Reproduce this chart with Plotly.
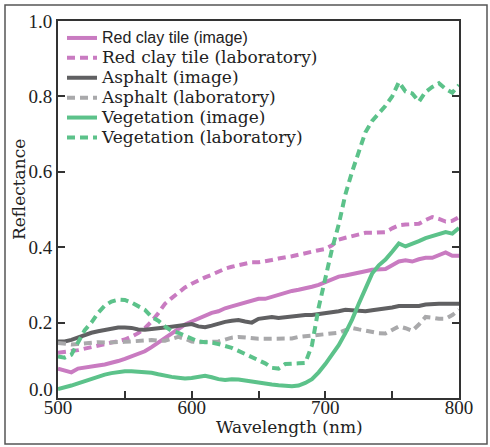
import plotly.graph_objects as go

wavelength = list(range(500, 801, 5))

red_clay_image = [0.078, 0.073, 0.068, 0.078, 0.080, 0.083, 0.086, 0.089, 0.093, 0.098,
                  0.104, 0.110, 0.117, 0.124, 0.135, 0.147, 0.160, 0.172, 0.184, 0.195,
                  0.203, 0.210, 0.218, 0.226, 0.230, 0.238, 0.243, 0.248, 0.252, 0.258,
                  0.263, 0.263, 0.268, 0.275, 0.280, 0.284, 0.287, 0.290, 0.295, 0.300,
                  0.307, 0.315, 0.322, 0.325, 0.328, 0.333, 0.336, 0.340, 0.340, 0.342,
                  0.352, 0.362, 0.365, 0.362, 0.368, 0.372, 0.372, 0.378, 0.386, 0.377,
                  0.377]
red_clay_lab = [0.120, 0.122, 0.124, 0.127, 0.131, 0.135, 0.139, 0.143, 0.146, 0.150,
                0.155, 0.163, 0.172, 0.185, 0.203, 0.225, 0.250, 0.265, 0.280, 0.293,
                0.303, 0.312, 0.320, 0.327, 0.335, 0.343, 0.348, 0.352, 0.357, 0.360,
                0.360, 0.362, 0.366, 0.370, 0.372, 0.376, 0.380, 0.385, 0.388, 0.392,
                0.395, 0.405, 0.420, 0.425, 0.430, 0.435, 0.438, 0.438, 0.438, 0.440,
                0.450, 0.458, 0.460, 0.460, 0.462, 0.472, 0.480, 0.475, 0.468, 0.470,
                0.480]
asphalt_image = [0.150, 0.150, 0.154, 0.160, 0.168, 0.173, 0.177, 0.180, 0.184, 0.187,
                 0.187, 0.186, 0.182, 0.181, 0.183, 0.186, 0.187, 0.189, 0.192, 0.195,
                 0.196, 0.190, 0.188, 0.192, 0.198, 0.202, 0.205, 0.207, 0.203, 0.200,
                 0.210, 0.213, 0.215, 0.212, 0.214, 0.217, 0.218, 0.220, 0.220, 0.222,
                 0.224, 0.227, 0.230, 0.234, 0.233, 0.230, 0.230, 0.233, 0.235, 0.237,
                 0.240, 0.244, 0.244, 0.242, 0.244, 0.248, 0.250, 0.250, 0.250, 0.250,
                 0.250]
asphalt_lab = [0.146, 0.144, 0.142, 0.143, 0.145, 0.147, 0.148, 0.147, 0.147, 0.148,
               0.149, 0.150, 0.151, 0.152, 0.154, 0.152, 0.152, 0.157, 0.162, 0.157,
               0.150, 0.148, 0.148, 0.148, 0.150, 0.155, 0.160, 0.162, 0.160, 0.158,
               0.157, 0.157, 0.157, 0.156, 0.156, 0.158, 0.162, 0.164, 0.166, 0.167,
               0.168, 0.170, 0.173, 0.180, 0.186, 0.182, 0.178, 0.175, 0.172, 0.171,
               0.180, 0.190, 0.185, 0.178, 0.195, 0.215, 0.213, 0.210, 0.210, 0.220,
               0.234]
vegetation_image = [0.024, 0.028, 0.033, 0.039, 0.045, 0.050, 0.057, 0.062, 0.066, 0.069,
                    0.071, 0.071, 0.070, 0.069, 0.067, 0.063, 0.059, 0.056, 0.054, 0.052,
                    0.053, 0.057, 0.059, 0.055, 0.050, 0.048, 0.050, 0.049, 0.046, 0.044,
                    0.040, 0.038, 0.036, 0.034, 0.032, 0.031, 0.033, 0.040, 0.050, 0.068,
                    0.090, 0.115, 0.140, 0.172, 0.208, 0.250, 0.290, 0.330, 0.352, 0.367,
                    0.388, 0.410, 0.402, 0.408, 0.416, 0.424, 0.430, 0.436, 0.440, 0.436,
                    0.451]
vegetation_lab = [0.110, 0.107, 0.115, 0.150, 0.180, 0.200, 0.226, 0.245, 0.256, 0.261,
                  0.260, 0.253, 0.244, 0.234, 0.215, 0.205, 0.190, 0.178, 0.173, 0.165,
                  0.157, 0.150, 0.148, 0.147, 0.143, 0.138, 0.133, 0.125, 0.117, 0.108,
                  0.100, 0.092, 0.080, 0.078, 0.090, 0.092, 0.092, 0.093, 0.140, 0.240,
                  0.320, 0.395, 0.460, 0.540, 0.600, 0.650, 0.705, 0.735, 0.755, 0.775,
                  0.800, 0.838, 0.813, 0.808, 0.786, 0.812, 0.825, 0.835, 0.820, 0.810,
                  0.830]

series_names = ["Red clay tile (image)", "Red clay tile (laboratory)", "Asphalt (image)",
                "Asphalt (laboratory)", "Vegetation (image)", "Vegetation (laboratory)"]
series_values = [red_clay_image, red_clay_lab, asphalt_image, asphalt_lab,
                 vegetation_image, vegetation_lab]
series_colors = ["#c97bc1", "#c97bc1", "#606062", "#a9a9ab", "#5cc28a", "#5cc28a"]
series_dash = ["solid", "8px,5px", "solid", "8px,5px", "solid", "8px,5px"]

x_tick_vals = [500, 550, 600, 650, 700, 750, 800]
x_tick_text = ["500", "", "600", "", "700", "", "800"]
y_tick_vals = [0.0, 0.2, 0.4, 0.6, 0.8, 1.0]
y_tick_text = ["0.0", "0.2", "0.4", "0.6", "0.8", "1.0"]

SERIF = "DejaVu Serif"
NUM = "Liberation Serif"
AX = "#333333"
TXT = "#222222"

fig = go.Figure()
for i, (name, vals, col, dash) in enumerate(zip(series_names, series_values, series_colors, series_dash)):
    if i == 0:
        label = '<span style="font-family:Liberation Sans;font-size:16px">' + name + '</span>'
    else:
        label = '<span style="font-size:17px">' + name + '</span>'
    fig.add_trace(go.Scatter(x=wavelength, y=vals, mode="lines", name=label,
                             line=dict(color=col, width=4, dash=dash)))

W, H = 490, 447
L, R, T, B = 58, 31, 21, 49
pw, ph = W - L - R, H - T - B

def px_x(x):
    return (x - L) / pw

def px_y(y):
    return (H - B - y) / ph

# the lowest y label sits raised above the axis corner in the reference
y_tick_shown = [""] + y_tick_text[1:]

fig.update_layout(
    width=W, height=H,
    margin=dict(l=L, r=R, t=T, b=B, pad=0),
    paper_bgcolor="white", plot_bgcolor="white",
    showlegend=True,
    legend=dict(x=px_x(62), y=px_y(23), xanchor="left", yanchor="top",
                bgcolor="rgba(0,0,0,0)", borderwidth=0,
                font=dict(family=SERIF, size=13, color=TXT),
                itemwidth=30, tracegroupgap=0),
    xaxis=dict(range=[500, 800], tickmode="array", tickvals=x_tick_vals, ticktext=x_tick_text,
               ticks="inside", ticklen=7, tickwidth=2, tickcolor=AX,
               showline=True, linewidth=2, linecolor=AX, mirror=True,
               showgrid=False, zeroline=False, ticklabelstandoff=-9,
               tickfont=dict(family=NUM, size=19, color=TXT)),
    yaxis=dict(range=[0, 1], tickmode="array", tickvals=y_tick_vals, ticktext=y_tick_shown,
               ticks="inside", ticklen=7, tickwidth=2, tickcolor=AX,
               showline=True, linewidth=2, linecolor=AX, mirror="ticks",
               showgrid=False, zeroline=False,
               tickfont=dict(family=NUM, size=19, color=TXT)),
    yaxis2=dict(range=[0, 1], overlaying="y", side="left", anchor="x",
                tickmode="array", tickvals=y_tick_vals, ticks="outside", ticklen=3,
                tickwidth=2, tickcolor=AX, showticklabels=False, showline=False,
                showgrid=False, zeroline=False),
    shapes=[dict(type="rect", xref="paper", yref="paper",
                 x0=px_x(5), x1=px_x(487), y0=px_y(444), y1=px_y(5),
                 line=dict(color="#555555", width=1.5), layer="below")],
    annotations=[
        dict(text=y_tick_text[0], xref="paper", yref="y", x=px_x(55), y=y_tick_vals[0],
             xanchor="right", yanchor="middle", yshift=9, showarrow=False,
             font=dict(family=NUM, size=19, color=TXT)),
        dict(text="Wavelength (nm)", xref="paper", yref="paper", x=px_x(289), y=px_y(427),
             xanchor="center", yanchor="middle", showarrow=False,
             font=dict(family=SERIF, size=17, color=TXT)),
        dict(text="Reflectance", xref="paper", yref="paper", x=px_x(19), y=px_y(190),
             xanchor="center", yanchor="middle", showarrow=False, textangle=-90,
             font=dict(family=SERIF, size=17, color=TXT)),
    ],
)

fig.write_html("out.html", config={"displayModeBar": False},
               post_script="document.body.style.margin='0';")
